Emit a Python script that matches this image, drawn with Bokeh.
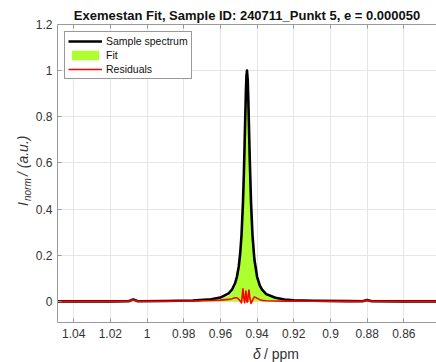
import math
from bokeh.plotting import figure
from bokeh.layouts import row, column
from bokeh.models import (Range1d, FixedTicker, LinearAxis, Label, Legend,
                          LegendItem, ColumnDataSource)
from bokeh.embed import file_html
from bokeh.resources import INLINE

# ---- data ----
ppm = [1.0505, 1.02, 1.010, 1.0075, 1.005, 0.99, 0.975, 0.965, 0.960, 0.9555,
       0.9537, 0.952, 0.951, 0.950, 0.9492, 0.9485, 0.9477, 0.9472, 0.9468,
       0.9465, 0.9461, 0.9458, 0.9455, 0.9451, 0.9448, 0.9444, 0.944, 0.9433,
       0.9425, 0.9415, 0.940, 0.9385, 0.9373, 0.935, 0.930, 0.925, 0.92, 0.91,
       0.89, 0.8825, 0.880, 0.8775, 0.86, 0.842]
spectrum = [0.0005, 0.0007, 0.001, 0.009, 0.001, 0.002, 0.004, 0.0094, 0.017,
            0.035, 0.051, 0.079, 0.107, 0.151, 0.209, 0.286, 0.427, 0.555,
            0.681, 0.783, 0.909, 0.976, 1.0, 0.958, 0.880, 0.749, 0.616, 0.427,
            0.286, 0.184, 0.107, 0.069, 0.051, 0.032, 0.016, 0.0085, 0.0055,
            0.003, 0.0015, 0.001, 0.006, 0.001, 0.0005, 0.0003]
fit = [0.0, 0.0, 0.0, 0.001, 0.0, 0.001, 0.002, 0.005, 0.011, 0.026, 0.039,
       0.063, 0.091, 0.141, 0.207, 0.292, 0.372, 0.540, 0.686, 0.773, 0.864,
       0.956, 1.003, 0.958, 0.850, 0.699, 0.596, 0.435, 0.281, 0.164, 0.093,
       0.061, 0.046, 0.029, 0.014, 0.007, 0.004, 0.002, 0.001, 0.0, 0.001,
       0.0, 0.0, 0.0]
residuals = [0.0005, 0.0007, 0.001, 0.008, 0.001, 0.001, 0.002, 0.004, 0.006,
             0.009, 0.012, 0.016, 0.016, 0.010, 0.002, -0.006, 0.055, 0.015,
             -0.005, 0.010, 0.045, 0.020, -0.003, 0.0, 0.030, 0.050, 0.020,
             -0.008, 0.005, 0.020, 0.014, 0.008, 0.005, 0.003, 0.002, 0.0015,
             0.0015, 0.001, 0.0005, 0.001, 0.005, 0.001, 0.0005, 0.0003]

x_ticks = [1.04, 1.02, 1.0, 0.98, 0.96, 0.94, 0.92, 0.90, 0.88, 0.86]
x_tick_labels = ["1.04", "1.02", "1", "0.98", "0.96", "0.94", "0.92", "0.9",
                 "0.88", "0.86"]
y_ticks = [0.0, 0.2, 0.4, 0.6, 0.8, 1.0, 1.2]
y_tick_labels = ["0", "0.2", "0.4", "0.6", "0.8", "1", "1.2"]

title_text = "Exemestan Fit, Sample ID: 240711_Punkt 5, e = 0.000050"

FONT = "Liberation Sans"
AXIS_COL = "#9a9a9a"
TEXT_COL = "#333333"

LEFT_W = 32
MAIN_W = 436 - LEFT_W
MAIN_H = 342
BOTTOM_H = 362 - MAIN_H

src = ColumnDataSource(dict(x=ppm, spec=spectrum, fit=fit, res=residuals))

p = figure(width=MAIN_W, height=MAIN_H, output_backend="svg",
           toolbar_location=None,
           x_range=Range1d(1.0488, 0.8422), y_range=Range1d(-0.091, 1.2),
           min_border_left=22, min_border_right=0, min_border_top=24,
           min_border_bottom=20)

p.title.text = title_text
p.title.text_font = FONT
p.title.text_font_size = "13px"
p.title.text_font_style = "bold"
p.title.text_color = "#111111"
p.title.align = "center"
p.title.standoff = 4

fit_r = p.varea(x="x", y1=0, y2="fit", source=src, fill_color="#adff2f")
spec_r = p.line(x="x", y="spec", source=src, line_color="black",
                line_width=2.6, line_join="round")
res_r = p.line(x="x", y="res", source=src, line_color="#ff0000",
               line_width=1.6, line_join="round")

for ax in (p.xaxis[0], p.yaxis[0]):
    ax.axis_line_color = AXIS_COL
    ax.major_tick_line_color = AXIS_COL
    ax.major_tick_in = 4
    ax.major_tick_out = 0
    ax.minor_tick_line_color = None
    ax.major_label_text_font = FONT
    ax.major_label_text_font_size = "12px"
    ax.major_label_text_color = TEXT_COL
    ax.axis_label = None
    ax.axis_label_standoff = 0

p.xaxis[0].ticker = FixedTicker(ticks=x_ticks)
p.xaxis[0].major_label_overrides = {t: l for t, l in zip(x_ticks, x_tick_labels)}
p.xaxis[0].major_label_standoff = 6
p.yaxis[0].ticker = FixedTicker(ticks=y_ticks)
p.yaxis[0].major_label_overrides = {t: l for t, l in zip(y_ticks, y_tick_labels)}
p.yaxis[0].major_label_standoff = 5

top = LinearAxis(ticker=FixedTicker(ticks=x_ticks),
                 major_label_overrides={t: "" for t in x_ticks},
                 axis_line_color=AXIS_COL, major_tick_line_color=AXIS_COL,
                 major_tick_in=4, major_tick_out=0, minor_tick_line_color=None,
                 major_label_standoff=0, major_label_text_font_size="1px")
p.add_layout(top, "above")

p.xgrid.ticker = FixedTicker(ticks=x_ticks)
p.ygrid.ticker = FixedTicker(ticks=y_ticks)
p.grid.grid_line_color = "#e6e6e6"
p.grid.grid_line_width = 1
p.outline_line_color = None

legend = Legend(items=[LegendItem(label="Sample spectrum", renderers=[spec_r]),
                       LegendItem(label="Fit", renderers=[fit_r]),
                       LegendItem(label="Residuals", renderers=[res_r])],
                location="top_left", margin=7, padding=3, spacing=2,
                glyph_width=34, glyph_height=12, label_height=12,
                label_standoff=4, label_text_font=FONT,
                label_text_font_size="10.5px", label_text_color="#111111",
                border_line_color="#333333", border_line_width=1,
                background_fill_color="white", background_fill_alpha=1)
p.add_layout(legend, "center")

def strip(w, h):
    f = figure(width=w, height=h, output_backend="svg", toolbar_location=None,
               x_axis_type=None, y_axis_type=None, min_border=0,
               x_range=Range1d(0, 1), y_range=Range1d(0, 1))
    f.outline_line_color = None
    f.grid.visible = False
    return f

lab_kw = dict(x_units="screen", y_units="screen", text_font=FONT,
              text_color=TEXT_COL, text_baseline="middle", text_align="left")

# ---- y axis label strip (left) ----
yl = strip(LEFT_W, 362)
yl.add_layout(Label(x=22, y=362 - 205.5, text="I", angle=math.pi / 2,
                    text_font_size="14px", text_font_style="italic", **lab_kw))
yl.add_layout(Label(x=27, y=362 - 200.5, text="norm", angle=math.pi / 2,
                    text_font_size="10px", text_font_style="italic", **lab_kw))
yl.add_layout(Label(x=22, y=362 - 175.5, text="/ (a.u.)", angle=math.pi / 2,
                    text_font_size="14px", text_font_style="italic", **lab_kw))

# ---- x axis label strip (bottom) ----
xl = strip(MAIN_W, BOTTOM_H)
xl.add_layout(Label(x=227.5 - LEFT_W, y=9, text="δ", text_font_size="14px",
                    text_font_style="italic", **lab_kw))
xl.add_layout(Label(x=238.5 - LEFT_W, y=9, text="/ ppm", text_font_size="14px",
                    **lab_kw))

layout = row(yl, column(p, xl))
open("out.html", "w").write(file_html(layout, INLINE))
